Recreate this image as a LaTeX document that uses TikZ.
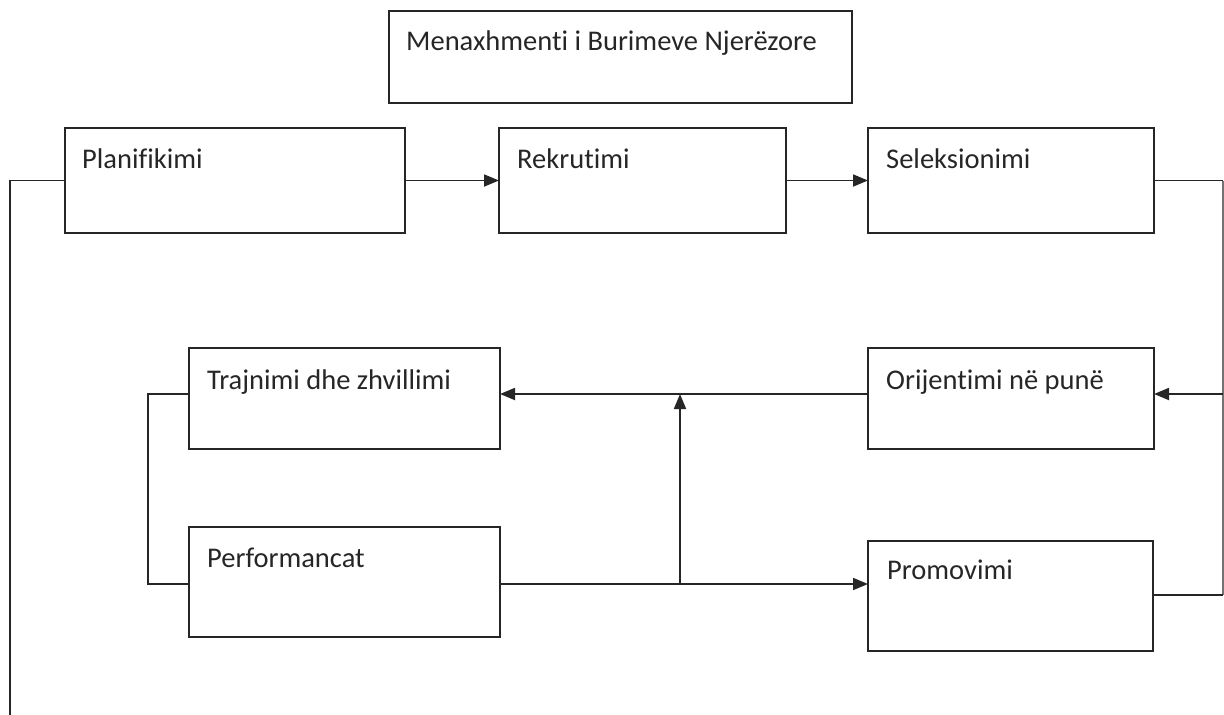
\documentclass[tikz,border=0pt]{standalone}
\usepackage{fontspec}
\setmainfont{Carlito}[RawFeature={-liga}]
\usetikzlibrary{arrows.meta}
\begin{document}
\begin{tikzpicture}[x=1pt,y=-1pt,
  box/.style={draw=black!85, line width=1.8pt, anchor=north west, inner sep=0pt, outer sep=0pt},
  lbl/.style={anchor=base west, inner sep=0pt, font=\fontsize{28.5}{33}\selectfont, text=black!85},
  con/.style={draw=black!85, line width=1.8pt},
  arr/.style={con, -{Triangle[length=15pt,width=12pt]}}]
\useasboundingbox (0,0) rectangle (1224,715);
% boxes
\node[box, minimum width=463, minimum height=92] (top) at (389,11) {};
\node[box, minimum width=340, minimum height=105] (plan) at (65,128) {};
\node[box, minimum width=287, minimum height=105] (rek) at (499,128) {};
\node[box, minimum width=286, minimum height=105] (sel) at (868,128) {};
\node[box, minimum width=311, minimum height=101] (traj) at (189,348) {};
\node[box, minimum width=286, minimum height=101] (orij) at (868,348) {};
\node[box, minimum width=311, minimum height=110] (perf) at (189,527) {};
\node[box, minimum width=285, minimum height=110] (prom) at (868,541) {};
% labels
\node[lbl] (ttop) at (406,50) {Menaxhmenti i Burimeve Njerëzore};
\node[lbl] (tplan) at (82,168) {Planifikimi};
\node[lbl] (trek) at (517,168) {Rekrutimi};
\node[lbl] (tsel) at (886,168) {Seleksionimi};
\node[lbl] (ttraj) at (207,389) {Trajnimi dhe zhvillimi};
\node[lbl] (torij) at (886,389) {Orijentimi në punë};
\node[lbl] (tperf) at (207,567) {Performancat};
\node[lbl] (tprom) at (887,579) {Promovimi};
% helper coordinates
\coordinate (rx) at (1223,0);
\coordinate (lx) at (10,0);
\coordinate (bx) at (0,715);
\coordinate (tx) at (148,0);
\coordinate (jx) at (680,0);
\coordinate (ry) at (0,394);
\coordinate (py) at (0,584);
\coordinate (qy) at (0,595);
% connectors
\draw[arr] (plan.east) -- (rek.west);
\draw[arr] (rek.east) -- (sel.west);
\draw[con] (sel.east) -- (sel.east -| rx);
\draw[draw=black!55, line width=1.2pt] (sel.east -| rx) -- (qy -| rx);
\draw[arr] (ry -| rx) -- (ry -| orij.east);
\draw[arr] (ry -| orij.west) -- (ry -| traj.east);
\draw[con] (ry -| traj.west) -- (ry -| tx) -- (py -| tx) -- (py -| perf.west);
\draw[arr] (py -| perf.east) -- (py -| prom.west);
\draw[arr] (py -| jx) -- (ry -| jx);
\draw[con] (qy -| prom.east) -- (qy -| rx);
\draw[con] (plan.west) -- (plan.west -| lx) -- (bx -| lx);
\end{tikzpicture}
\end{document}
